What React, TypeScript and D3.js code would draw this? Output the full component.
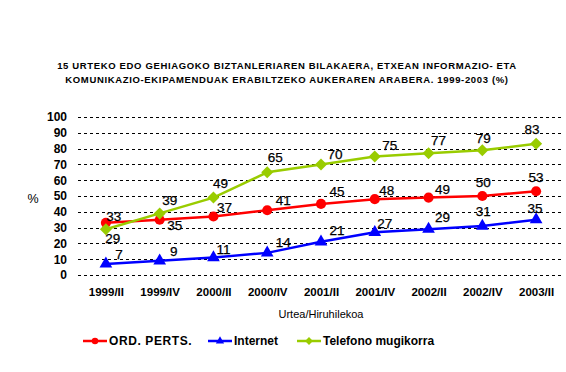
import React, { useEffect, useRef } from 'react';
import * as d3 from 'd3';

// categories and series values
const categories = ['1999/II', '1999/IV', '2000/II', '2000/IV', '2001/II', '2001/IV', '2002/II', '2002/IV', '2003/II'];
const ordPerts = [33, 35, 37, 41, 45, 48, 49, 50, 53];
const internet = [7, 9, 11, 14, 21, 27, 29, 31, 35];
const mugikorra = [29, 39, 49, 65, 70, 75, 77, 79, 83];
const yTicks = [0, 10, 20, 30, 40, 50, 60, 70, 80, 90, 100];

const titleLines = [
  '15 URTEKO EDO GEHIAGOKO BIZTANLERIAREN BILAKAERA, ETXEAN INFORMAZIO- ETA',
  'KOMUNIKAZIO-EKIPAMENDUAK ERABILTZEKO AUKERAREN ARABERA. 1999-2003 (%)',
];

// label nudges (centre of label relative to the point), as placed in the original
const redNudge = [[8, -7], [15, 5], [11, -9], [16, -10], [16, -13], [12, -9], [14, -8], [1, -14], [0, -14]];
const blueNudge = [[13, -10], [14, -10], [10, -8], [16, -11], [16, -12], [10, -9], [14, -12], [1, -15], [-1, -12]];
const greenNudge = [[7, 9], [10, -13], [7, -14], [8, -15], [14, -10], [15, -11], [10, -13], [1, -12], [-4, -15]];

const FONT = 'Arial, "Liberation Sans", sans-serif';

const App = () => {
  const svgRef = useRef<SVGSVGElement>(null);

  useEffect(() => {
    const svg = d3.select(svgRef.current);
    svg.selectAll('*').remove();

    const width = 566;
    const height = 372;
    const plot = { left: 79, right: 563, top: 117, bottom: 275 };

    const x = d3.scalePoint<string>()
      .domain(categories)
      .range([plot.left, plot.right])
      .padding(0.5);

    const y = d3.scaleLinear()
      .domain([0, 100])
      .range([plot.bottom, plot.top]);

    svg.append('rect').attr('width', width).attr('height', height).attr('fill', '#fff');

    // title
    svg.append('g')
      .selectAll('text')
      .data(titleLines)
      .enter().append('text')
      .attr('x', 287)
      .attr('y', (d, i) => 68.5 + i * 14.5)
      .attr('text-anchor', 'middle')
      .attr('font-family', FONT)
      .attr('font-weight', 'bold')
      .attr('font-size', 9.5)
      .attr('letter-spacing', 0.65)
      .text(d => d);

    // gridlines
    svg.append('g')
      .selectAll('line')
      .data(yTicks)
      .enter().append('line')
      .attr('x1', plot.left - 1)
      .attr('x2', plot.right)
      .attr('y1', d => Math.round(y(d)) + 0.5)
      .attr('y2', d => Math.round(y(d)) + 0.5)
      .attr('stroke', '#000')
      .attr('stroke-width', 1)
      .attr('stroke-dasharray', '3,3');

    // y axis labels
    const yAxis = d3.axisLeft(y).tickValues(yTicks).tickSize(0).tickPadding(0);
    const yg = svg.append('g')
      .attr('transform', `translate(67,0)`)
      .call(yAxis);
    yg.select('.domain').remove();
    yg.selectAll('text')
      .attr('font-family', FONT)
      .attr('font-weight', 'bold')
      .attr('font-size', 12)
      .attr('fill', '#000');

    svg.append('text')
      .attr('x', 33)
      .attr('y', 199)
      .attr('dy', '0.35em')
      .attr('text-anchor', 'middle')
      .attr('font-family', FONT)
      .attr('font-size', 12.5)
      .text('%');

    // x axis labels
    const xAxis = d3.axisBottom(x).tickSize(0).tickPadding(0);
    const xg = svg.append('g')
      .attr('transform', `translate(0,${plot.bottom + 13})`)
      .call(xAxis);
    xg.select('.domain').remove();
    xg.selectAll('text')
      .attr('font-family', FONT)
      .attr('font-weight', 'bold')
      .attr('font-size', 11.5)
      .attr('fill', '#000');

    svg.append('text')
      .attr('x', (plot.left + plot.right) / 2)
      .attr('y', 318)
      .attr('text-anchor', 'middle')
      .attr('font-family', FONT)
      .attr('font-size', 11)
      .text('Urtea/Hiruhilekoa');

    const series = [
      { name: 'ORD. PERTS.', values: ordPerts, color: '#ff0000', marker: 'circle', nudge: redNudge },
      { name: 'Internet', values: internet, color: '#0000ff', marker: 'triangle', nudge: blueNudge },
      { name: 'Telefono mugikorra', values: mugikorra, color: '#99cc00', marker: 'diamond', nudge: greenNudge },
    ];

    const markerPath = (kind: string, s = 1) => {
      if (kind === 'circle') return d3.symbol(d3.symbolCircle, 80 * s * s)();
      if (kind === 'triangle') return d3.symbol(d3.symbolTriangle, 70 * s * s)();
      const r = 6 * s;
      return `M0,${-r}L${r},0L0,${r}L${-r},0Z`;
    };

    const line = d3.line<number>()
      .x((d, i) => x(categories[i]) as number)
      .y(d => y(d));

    series.forEach(s => {
      const g = svg.append('g');
      g.append('path')
        .datum(s.values)
        .attr('d', line)
        .attr('fill', 'none')
        .attr('stroke', s.color)
        .attr('stroke-width', 2.5);

      g.selectAll('path.marker')
        .data(s.values)
        .enter().append('path')
        .attr('class', 'marker')
        .attr('d', markerPath(s.marker))
        .attr('transform', (d, i) => `translate(${x(categories[i])},${y(d)})`)
        .attr('fill', s.color);
    });

    // data labels
    series.forEach(s => {
      svg.append('g')
        .selectAll('text')
        .data(s.values)
        .enter().append('text')
        .attr('x', (d, i) => (x(categories[i]) as number) + s.nudge[i][0])
        .attr('y', (d, i) => y(d) + s.nudge[i][1])
        .attr('dy', '0.36em')
        .attr('text-anchor', 'middle')
        .attr('font-family', FONT)
        .attr('font-size', 13.5)
        .attr('fill', '#000')
        .attr('stroke', '#000')
        .attr('stroke-width', 0.25)
        .text(d => d);
    });

    // legend
    const legendX = [83, 208, 297];
    const legend = svg.append('g');
    series.forEach((s, i) => {
      const lg = legend.append('g').attr('transform', `translate(${legendX[i]},341)`);
      lg.append('line')
        .attr('x1', 0).attr('x2', 24)
        .attr('stroke', s.color)
        .attr('stroke-width', 2.5);
      lg.append('path')
        .attr('d', markerPath(s.marker, 0.65))
        .attr('transform', 'translate(12,0)')
        .attr('fill', s.color);
      lg.append('text')
        .attr('x', 26)
        .attr('dy', '0.36em')
        .attr('font-family', FONT)
        .attr('font-weight', 'bold')
        .attr('font-size', 12)
        .attr('letter-spacing', i === 0 ? 0.6 : 0)
        .text(s.name);
    });
  }, []);

  return (
    <svg
      ref={svgRef}
      width={566}
      height={372}
      style={{ position: 'absolute', left: 0, top: 0, display: 'block' }}
    />
  );
};

export default App;
